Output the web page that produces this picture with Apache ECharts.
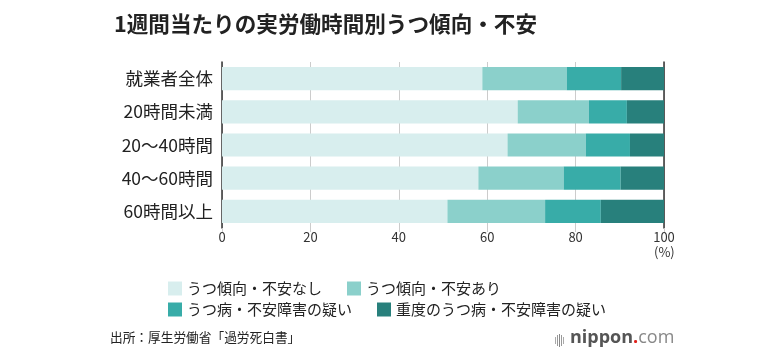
<!DOCTYPE html>
<html><head><meta charset="utf-8">
<script src="https://cdn.jsdelivr.net/npm/echarts@6/dist/echarts.min.js"></script>
<style>html,body{margin:0;padding:0;background:#fff}#c{width:768px;height:362px}</style>
</head><body><div id="c"></div>
<script>
const categories = ['就業者全体','20時間未満','20～40時間','40～60時間','60時間以上'];
const seriesNames = ['うつ傾向・不安なし','うつ傾向・不安あり','うつ病・不安障害の疑い','重度のうつ病・不安障害の疑い'];
const noneVals = [58.9, 66.9, 64.6, 58.0, 51.0];
const someVals = [19.1, 16.1, 17.7, 19.3, 22.1];
const suspectVals = [12.3, 8.6, 10.0, 12.9, 12.6];
const severeVals = [9.7, 8.4, 7.7, 9.8, 14.3];
const xTicks = [0, 20, 40, 60, 80, 100];
const colors = ['#d8eeee', '#8bd0cb', '#38aca8', '#28807c'];

const FONT = '"Noto Sans CJK JP", "Noto Sans", sans-serif';
const chart = echarts.init(document.getElementById('c'));
const allVals = [noneVals, someVals, suspectVals, severeVals];
chart.setOption({
  animation: false,
  textStyle: { fontFamily: FONT },
  title: {
    text: '1週間当たりの実労働時間別うつ傾向・不安',
    left: 109, top: 8,
    textStyle: { fontSize: 21.6, fontWeight: 'bold', color: '#222', fontFamily: FONT }
  },
  grid: { left: 222, right: 104, top: 62, bottom: 134, containLabel: false },
  xAxis: {
    type: 'value', min: 0, max: 100, interval: 20,
    axisLine: { show: false },
    axisTick: { show: true, length: 4, lineStyle: { color: '#cccccc' } },
    splitLine: { show: true, lineStyle: { color: '#cccccc', width: 1 } },
    axisLabel: { color: '#333', fontSize: 13, margin: 3, fontFamily: FONT,
      formatter: v => xTicks.includes(v) ? String(v) : '' }
  },
  yAxis: [{
    type: 'category', data: categories, inverse: true,
    axisLine: { show: true, lineStyle: { color: '#333', width: 1.5 } },
    axisTick: { show: false },
    axisLabel: { color: '#222', fontSize: 17.5, margin: 9, fontFamily: FONT }
  }, {
    type: 'category', data: categories, inverse: true, position: 'right',
    axisLine: { show: true, lineStyle: { color: '#333', width: 1.5 } },
    axisTick: { show: false }, axisLabel: { show: false }
  }],
  legend: [{
    data: [seriesNames[0], seriesNames[1]],
    left: 163, top: 276, itemWidth: 14, itemHeight: 14, itemGap: 25,
    icon: 'rect', selectedMode: false,
    textStyle: { fontSize: 15, color: '#222', fontFamily: FONT }
  }, {
    data: [seriesNames[2], seriesNames[3]],
    left: 163, top: 297, itemWidth: 14, itemHeight: 14, itemGap: 25,
    icon: 'rect', selectedMode: false,
    textStyle: { fontSize: 15, color: '#222', fontFamily: FONT }
  }],
  graphic: [
    { type: 'text', left: 654, top: 246, style: { text: '(%)', fontSize: 13, fill: '#333', fontFamily: FONT } },
    { type: 'text', left: 110, top: 331, style: { text: '出所：厚生労働省「過労死白書」', fontSize: 12.7, fill: '#222', fontFamily: FONT } },
    { type: 'rect', shape: { x: 555, y: 337, width: 1, height: 7 }, style: { fill: '#aaa' } },
    { type: 'rect', shape: { x: 557, y: 335, width: 1, height: 11 }, style: { fill: '#999' } },
    { type: 'rect', shape: { x: 559, y: 334, width: 1, height: 13 }, style: { fill: '#888' } },
    { type: 'rect', shape: { x: 561, y: 335, width: 1, height: 11 }, style: { fill: '#999' } },
    { type: 'rect', shape: { x: 563, y: 337, width: 1, height: 7 }, style: { fill: '#aaa' } },
    { type: 'text', left: 570, top: 329, style: {
      text: '{a|nippon}{b|.}{c|com}',
      rich: {
        a: { fontSize: 18, fill: '#555', fontFamily: '"Open Sans", sans-serif', fontWeight: 'bold' },
        b: { fontSize: 18, fill: '#e0201b', fontFamily: '"Open Sans", sans-serif', fontWeight: 'bold' },
        c: { fontSize: 18, fill: '#888', fontFamily: '"Open Sans", sans-serif' }
      } } }
  ],
  series: seriesNames.map((n, i) => ({
    name: n, type: 'bar', stack: 'total', data: allVals[i],
    barCategoryGap: '30%',
    itemStyle: { color: colors[i] },
    emphasis: { disabled: true }
  }))
});
</script></body></html>
